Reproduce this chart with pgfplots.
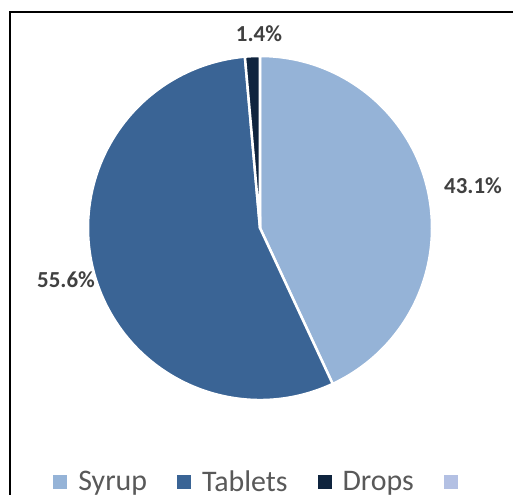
\documentclass[border=0pt]{standalone}
\usepackage{pgfplots}
\pgfplotsset{compat=1.18}
\usepackage{fontspec}
\setmainfont{Carlito}
\definecolor{syrup}{HTML}{95B3D7}
\definecolor{tablets}{HTML}{3A6495}
\definecolor{drops}{HTML}{0F243E}
\definecolor{extra}{HTML}{B3C0E3}
\definecolor{labelgray}{HTML}{404040}
\definecolor{leggray}{HTML}{595959}
\begin{document}
\begin{tikzpicture}
\useasboundingbox (0,0) rectangle (513bp,495bp);
\begin{axis}[hide axis, x=1bp, y=1bp, xmin=0, xmax=513, ymin=0, ymax=495,
  anchor=origin, at={(0,0)}, clip=false,
  legend columns=4,
  legend style={at={(0.511,0.027)}, anchor=center, draw=none, fill=none,
    font=\fontsize{30}{32}\selectfont, text=leggray, inner sep=0pt,
    /tikz/every odd column/.append style={column sep=9bp},
    /tikz/every even column/.append style={column sep=28bp}},
  legend image code/.code={\fill[#1, draw=none] (0bp,-7bp) rectangle (14bp,7bp);}]
\addlegendimage{fill=syrup, draw=none}\addlegendentry{Syrup}
\addlegendimage{fill=tablets, draw=none}\addlegendentry{Tablets}
\addlegendimage{fill=drops, draw=none}\addlegendentry{Drops}
\addlegendimage{fill=extra, draw=none}\addlegendentry{}
% pie: values 43.1, 55.6, 1.4 (percent), clockwise from 12 o'clock
\fill[syrup, draw=white, line width=2.5bp, line join=round]
  (axis cs:260,267) -- +(90:172bp) arc[start angle=90, end angle={90-43.1*3.6/1.001}, radius=172bp] -- cycle;
\fill[tablets, draw=white, line width=2.5bp, line join=round]
  (axis cs:260,267) -- +({90-43.1*3.6/1.001}:172bp) arc[start angle={90-43.1*3.6/1.001}, end angle={90-(43.1+55.6)*3.6/1.001}, radius=172bp] -- cycle;
\fill[drops, draw=white, line width=2.5bp, line join=round]
  (axis cs:260,267) -- +({90-(43.1+55.6)*3.6/1.001}:172bp) arc[start angle={90-(43.1+55.6)*3.6/1.001}, end angle={90-(43.1+55.6+1.4)*3.6/1.001}, radius=172bp] -- cycle;
\node[font=\bfseries\fontsize{23}{25}\selectfont, text=labelgray] at (axis cs:259,461) {1.4\%};
\node[font=\bfseries\fontsize{23}{25}\selectfont, text=labelgray] at (axis cs:473,309) {43.1\%};
\node[font=\bfseries\fontsize{23}{25}\selectfont, text=labelgray] at (axis cs:66,215) {55.6\%};
\draw[black, line width=2.5bp] (axis cs:10,-5) -- (axis cs:10,483) -- (axis cs:520,483);
\end{axis}
\end{tikzpicture}
\end{document}
